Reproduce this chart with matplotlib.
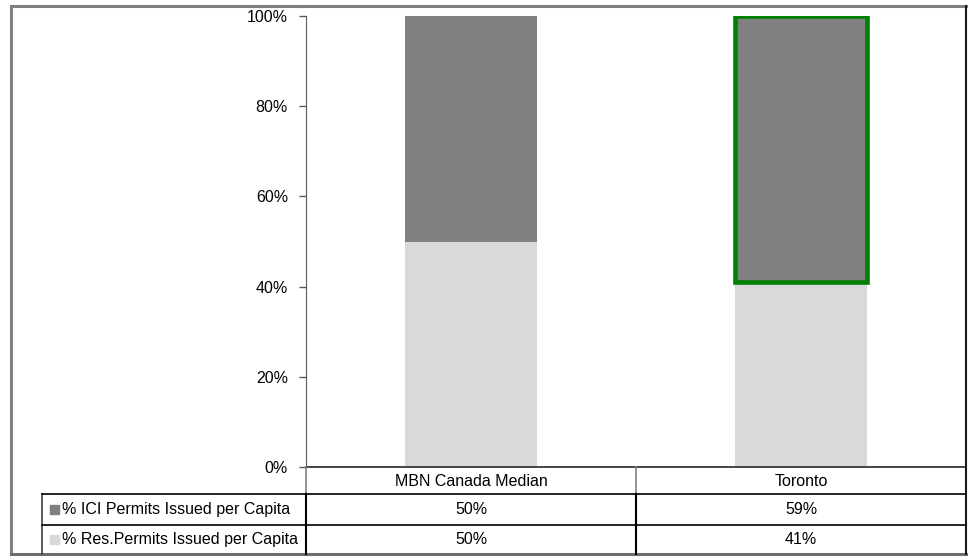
import matplotlib
matplotlib.use("Agg")
import matplotlib.pyplot as plt
from matplotlib.patches import Rectangle
from matplotlib.ticker import PercentFormatter

plt.rcParams['font.family'] = ['Liberation Sans', 'DejaVu Sans']
plt.rcParams['font.size'] = 11.5

# data
categories = ["MBN Canada Median", "Toronto"]
series_names = ["% ICI Permits Issued per Capita", "% Res.Permits Issued per Capita"]
ici = [0.50, 0.59]
res = [0.50, 0.41]
highlight = "Toronto"

ici_color = "#808080"
res_color = "#D9D9D9"
green = "#008000"

W, H = 969, 560
fig = plt.figure(figsize=(W / 100, H / 100), dpi=100)

# pixel helpers for layout
def fx(px):
    return px / W

def fy(py):
    return 1 - py / H

ax_left, ax_right, ax_top, ax_bottom = 306, 966, 16, 467
ax = fig.add_axes([fx(ax_left), fy(ax_bottom), fx(ax_right - ax_left), (ax_bottom - ax_top) / H])

xs = list(range(len(categories)))
ax.bar(xs, res, width=0.4, color=res_color, zorder=1)
bars = ax.bar(xs, ici, width=0.4, bottom=res, color=ici_color, zorder=2)
for b, cat in zip(bars, categories):
    if cat == highlight:
        b.set_edgecolor(green)
        b.set_linewidth(3.3)
        b.set_joinstyle("miter")

ax.set_xlim(-0.5, len(categories) - 0.5)
ax.set_ylim(0, 1)
ax.set_yticks([0, 0.2, 0.4, 0.6, 0.8, 1.0])
ax.yaxis.set_major_formatter(PercentFormatter(1.0, decimals=0))
ax.set_xticks([])
ax.tick_params(axis='y', length=5, width=1, color="#595959", pad=8, labelsize=11.5)
for s in ["top", "right"]:
    ax.spines[s].set_visible(False)
ax.spines["left"].set_color("#595959")
ax.spines["bottom"].set_color("#262626")
ax.spines["bottom"].set_linewidth(1.2)

# overlay for table and frame (pixel coords)
ov = fig.add_axes([0, 0, 1, 1], zorder=5)
ov.set_xlim(0, W)
ov.set_ylim(H, 0)
ov.axis("off")
ov.patch.set_alpha(0)

# outer frame
ov.plot([11, 966], [6, 6], color="#808080", lw=2.2)
ov.plot([11, 11], [6, 554], color="#808080", lw=2.2)
ov.plot([11, 966], [554, 554], color="#6e6e6e", lw=2.2)
ov.plot([966, 966], [6, 554], color="#1a1a1a", lw=1.5)

# data table
col_edges = [306, 636, 966]
row_edges = [467, 494, 525, 554]
lab_left = 42

ov.plot([306, 306], [467, 494], color="#808080", lw=1.2)
ov.plot([306, 306], [494, 554], color="black", lw=1.5)
ov.plot([636, 636], [467, 494], color="#808080", lw=1.2)
ov.plot([636, 636], [494, 554], color="black", lw=1.5)
ov.plot([lab_left, lab_left], [494, 554], color="#404040", lw=1.2)
for y in row_edges[1:3]:
    ov.plot([lab_left, 966], [y, y], color="black", lw=1.2)

for i, cat in enumerate(categories):
    cx = (col_edges[i] + col_edges[i + 1]) / 2
    ov.text(cx, (row_edges[0] + row_edges[1]) / 2 + 1, cat, ha="center", va="center")

table_rows = [ici, res]
swatches = [ici_color, res_color]
for r, (name, vals, col) in enumerate(zip(series_names, table_rows, swatches)):
    cy = (row_edges[r + 1] + row_edges[r + 2]) / 2
    ov.add_patch(Rectangle((50, cy - 4.5), 9, 9, color=col))
    ov.text(62, cy, name, ha="left", va="center")
    for i, v in enumerate(vals):
        cx = (col_edges[i] + col_edges[i + 1]) / 2
        ov.text(cx, cy, "{:.0f}%".format(v * 100), ha="center", va="center")

fig.savefig("out.png", dpi=100)
